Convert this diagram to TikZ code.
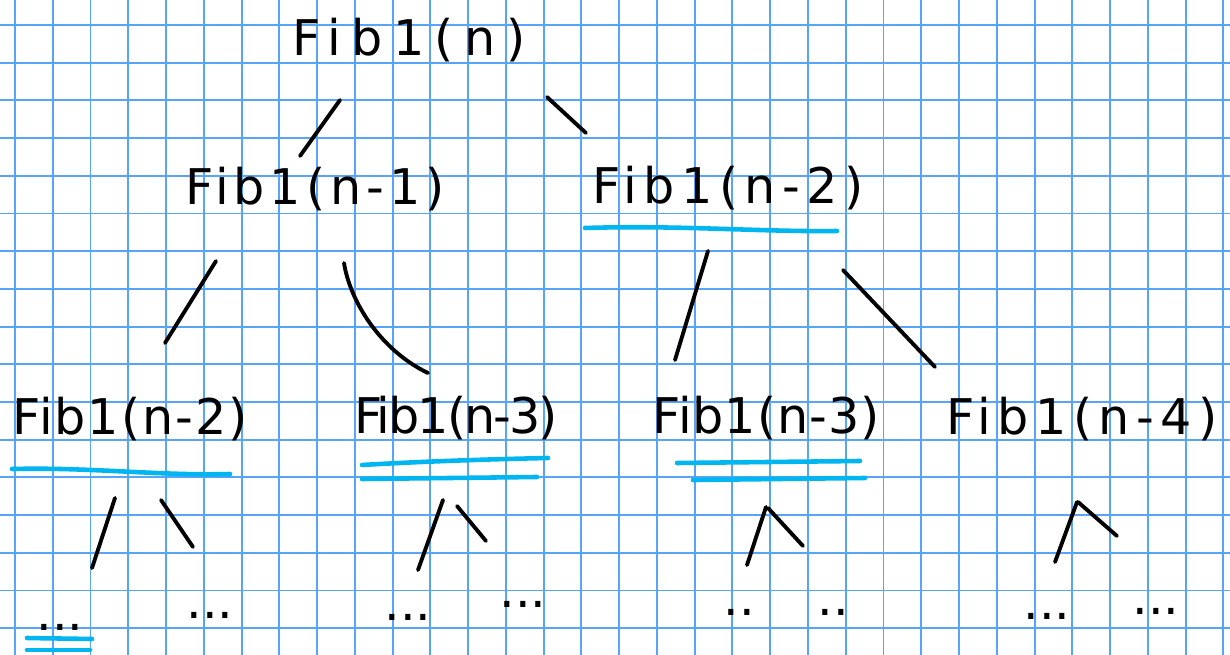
\documentclass[tikz,border=0pt]{standalone}
\usepackage{fontspec}
\newfontfamily\handfont{DejaVu Sans}
\definecolor{paperblue}{RGB}{88,164,248}
\definecolor{markcyan}{RGB}{0,182,240}

\begin{document}
\begin{tikzpicture}[x=0.02cm, y=-0.02cm,
  paperline/.style={paperblue, line width=1.1pt},
  fibtext/.style={font=\handfont\fontsize{28}{32}\selectfont\addfontfeature{LetterSpace=#1}, inner sep=0pt},
  fibtext/.default=0,
  leaf/.style={font=\handfont\fontsize{28}{32}\selectfont, inner sep=0pt},
  branch/.style={black, line width=2.2pt, line cap=round},
  hilite/.style={markcyan, line width=2.6pt, line cap=round}]

\useasboundingbox (0,0) rectangle (1230,655);
\fill[white] (0,0) rectangle (1230,655);

% Squared paper
\foreach \i in {0,...,32} {
  \draw[paperline] (15+37.76*\i,0) -- (15+37.76*\i,655);
}
\foreach \j in {0,...,16} {
  \draw[paperline] (0,25+37.7*\j) -- (1230,25+37.7*\j);
}

% Calls of the recursion
\node[fibtext=21] (fibRoot) at (409,40) {Fib1(n)};
\node[fibtext=10] (fibA) at (315,189) {Fib1(n-1)};
\node[fibtext=13] (fibB) at (728,188) {Fib1(n-2)};
\node[fibtext=4] (fibAA) at (130,419) {Fib1(n-2)};
\node[fibtext=-4] (fibAB) at (456,418) {Fib1(n-3)};
\node[fibtext=2] (fibBA) at (766,418) {Fib1(n-3)};
\node[fibtext=13] (fibBB) at (1082,419) {Fib1(n-4)};

% Leaves
\node[leaf] (lfAA1) at (60,627) {...};
\node[leaf] (lfAA2) at (210,615) {...};
\node[leaf] (lfAB1) at (408,617) {...};
\node[leaf] (lfAB2) at (523,604) {...};
\node[leaf] (lfBA1) at (739,612) {..};
\node[leaf] (lfBA2) at (833,612) {..};
\node[leaf] (lfBB1) at (1047,616) {...};
\node[leaf] (lfBB2) at (1156,611) {...};

% Branches
\draw[branch] ([shift={(-69,60)}]fibRoot.center) -- ([shift={(-15,-33)}]fibA.center);
\draw[branch] ([shift={(138,57)}]fibRoot.center) -- ([shift={(-142,-55)}]fibB.center);
\draw[branch] ([shift={(-99,72)}]fibA.center) -- ([shift={(35,-76)}]fibAA.center);
\draw[branch] ([shift={(29,74)}]fibA.center) .. controls +(6,38) and +(-48,-23) .. ([shift={(-28,-45)}]fibAB.center);
\draw[branch] ([shift={(-20,63)}]fibB.center) -- ([shift={(-91,-58)}]fibBA.center);
\draw[branch] ([shift={(115,82)}]fibB.center) -- ([shift={(-147,-52)}]fibBB.center);
\draw[branch] ([shift={(-15,79)}]fibAA.center) -- ([shift={(32,-59)}]lfAA1.center);
\draw[branch] ([shift={(31,81)}]fibAA.center) -- ([shift={(-17,-68)}]lfAA2.center);
\draw[branch] ([shift={(-13,82)}]fibAB.center) -- ([shift={(10,-47)}]lfAB1.center);
\draw[branch] ([shift={(1,88)}]fibAB.center) -- ([shift={(-37,-63)}]lfAB2.center);
\draw[branch] ([shift={(0,89)}]fibBA.center) -- ([shift={(8,-47)}]lfBA1.center);
\draw[branch] ([shift={(2,90)}]fibBA.center) -- ([shift={(-30,-66)}]lfBA2.center);
\draw[branch] ([shift={(-5,83)}]fibBB.center) -- ([shift={(8,-54)}]lfBB1.center);
\draw[branch] ([shift={(-4,83)}]fibBB.center) -- ([shift={(-39,-75)}]lfBB2.center);

% Cyan underlines
\draw[hilite] (585,228) .. controls (680,225) and (760,232) .. (837,231);
\draw[hilite] (12,469) .. controls (90,467) and (160,476) .. (230,474);
\draw[hilite] (362,465) .. controls (430,461) and (500,459) .. (548,458);
\draw[hilite] (362,479) -- (537,477);
\draw[hilite] (677,463) -- (860,461);
\draw[hilite] (693,480) -- (865,478);
\draw[hilite] (27,638) -- (92,639);
\draw[hilite] (27,650) -- (90,650);

\end{tikzpicture}
\end{document}
